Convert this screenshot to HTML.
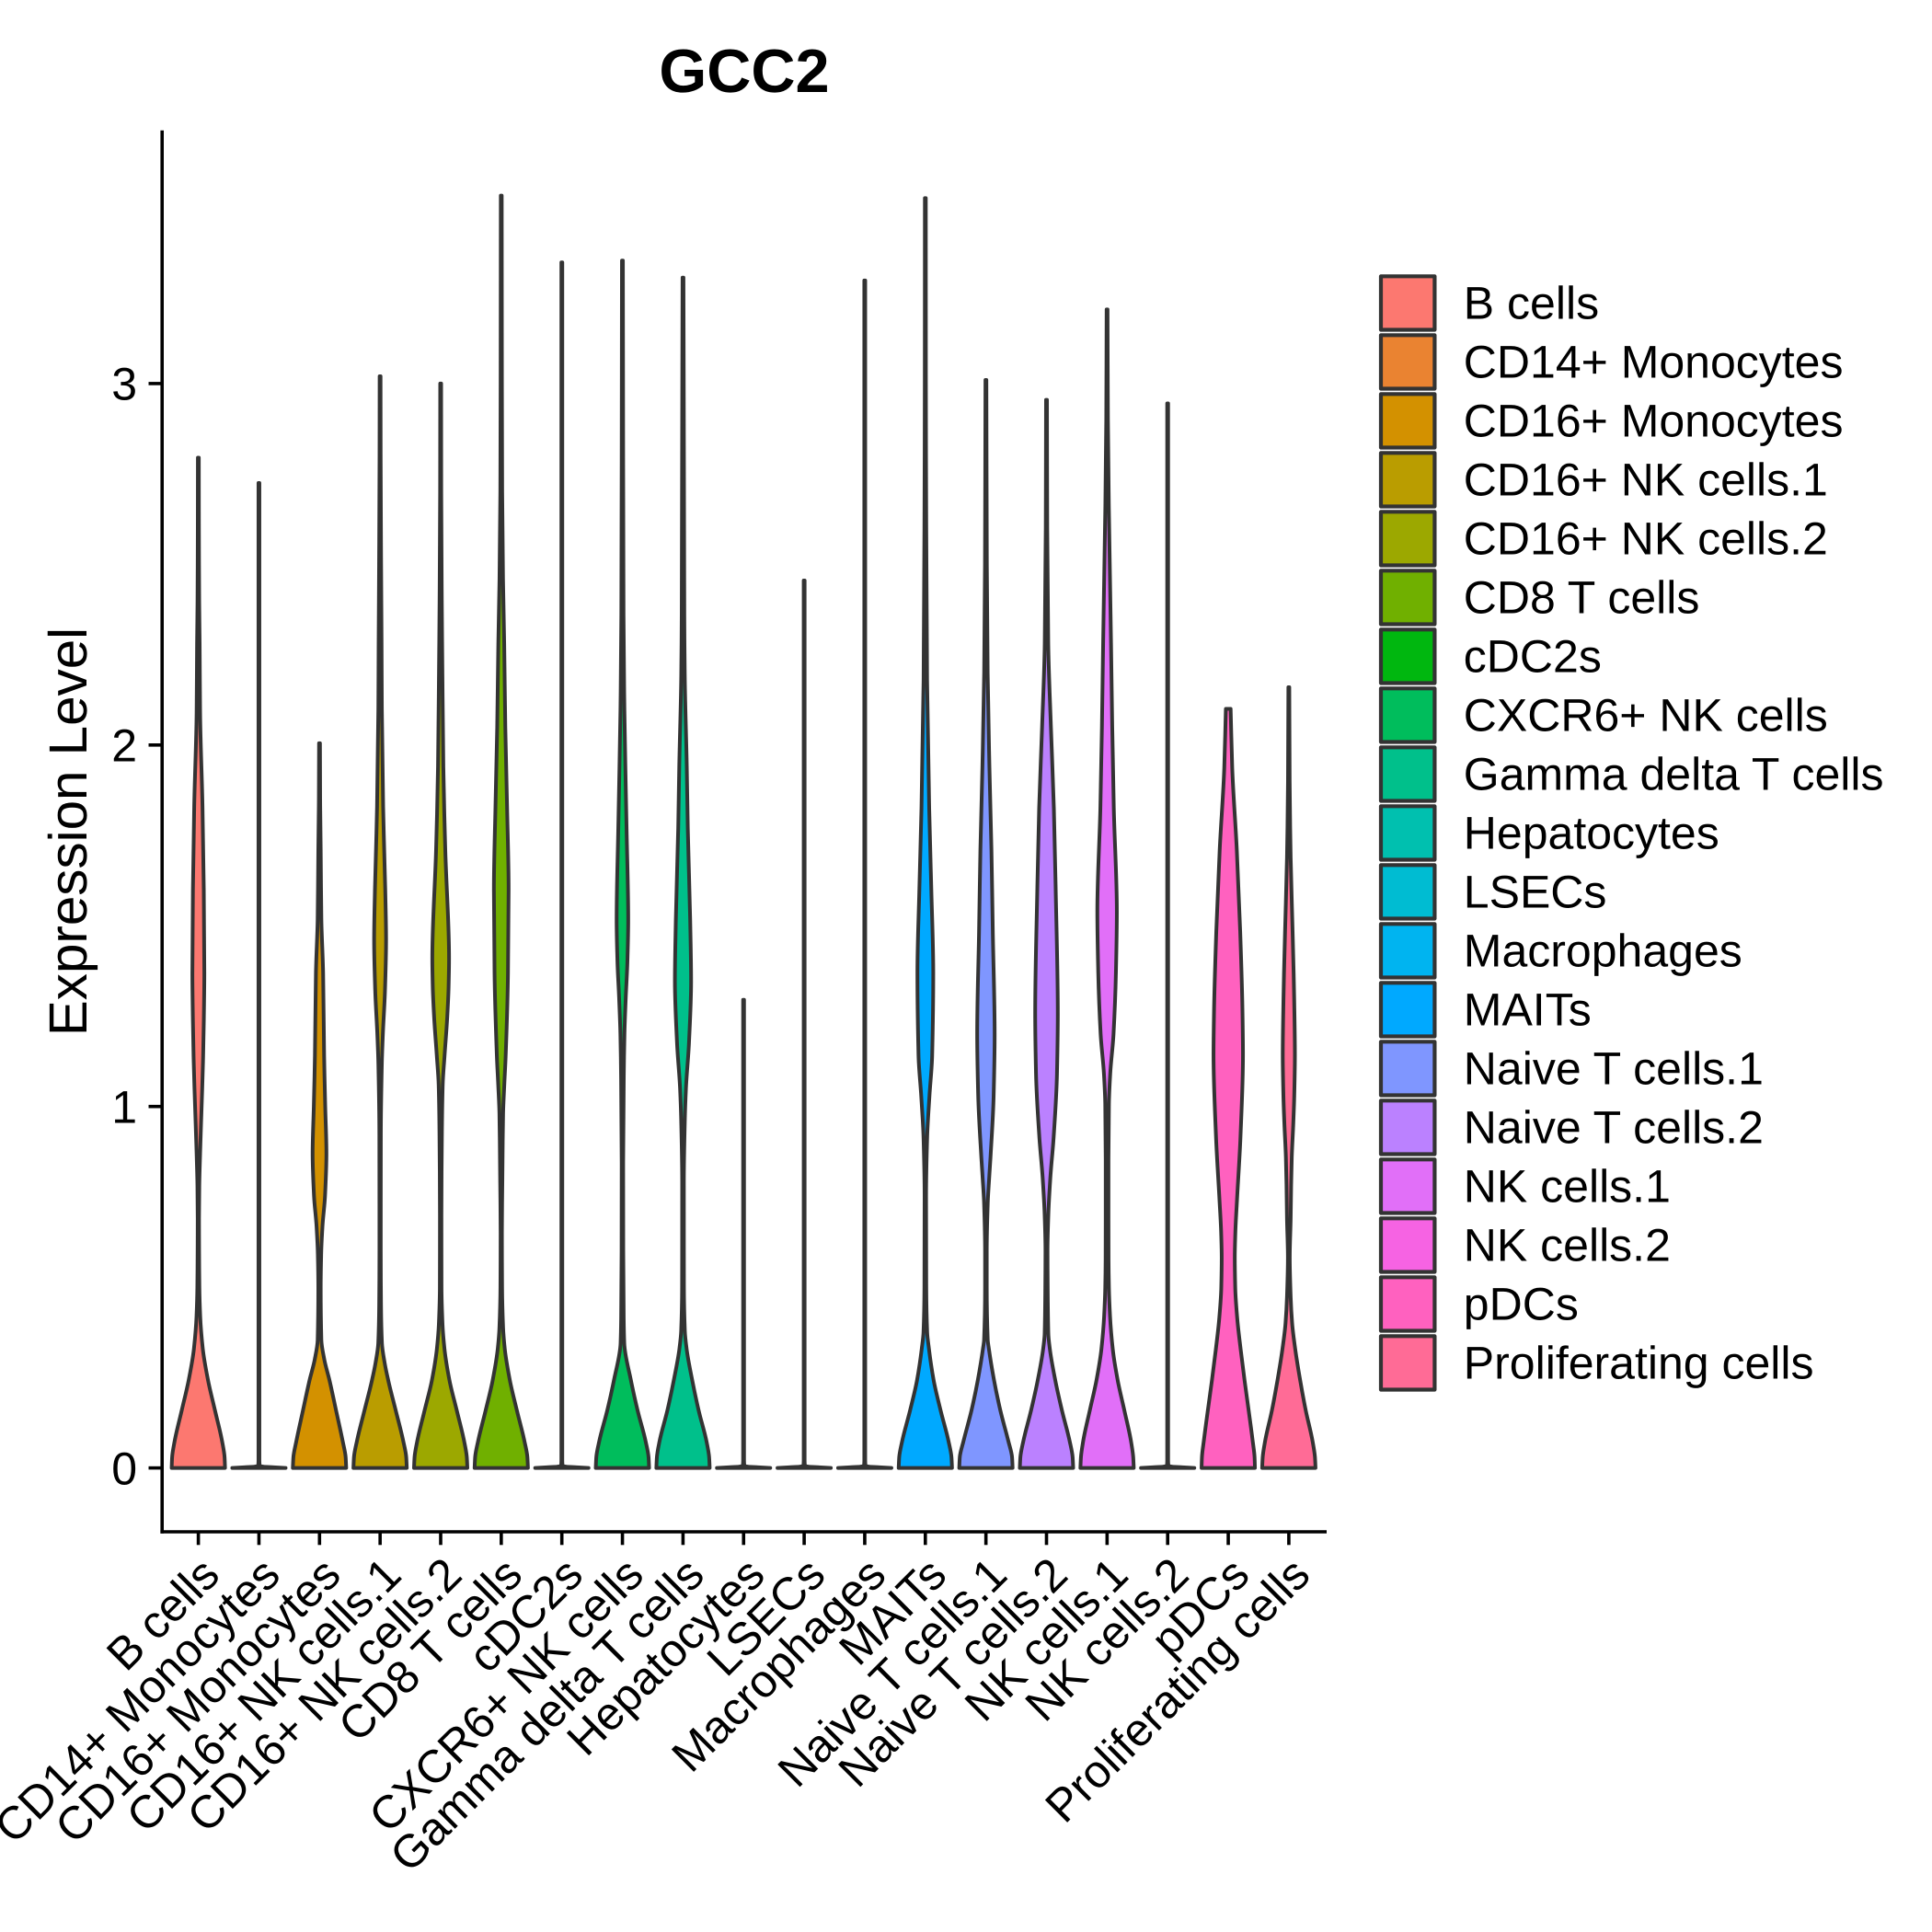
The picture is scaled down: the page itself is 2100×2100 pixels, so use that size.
<!DOCTYPE html>
<html lang="en">
<head>
<meta charset="utf-8">
<title>GCC2 violin plot</title>
<style>
  html, body { margin: 0; padding: 0; background: #ffffff; }
  svg { display: block; }
  text { font-family: "Liberation Sans", Arial, sans-serif; fill: #000000; text-rendering: geometricPrecision; }
</style>
</head>
<body>
<svg id="chart" xmlns="http://www.w3.org/2000/svg" width="2100" height="2100" viewBox="0 0 2100 2100">
  <rect x="0" y="0" width="2100" height="2100" fill="#ffffff"></rect>
  <text x="809" y="100" text-anchor="middle" font-size="66.67" font-weight="bold">GCC2</text>
  <text transform="translate(94 904) rotate(-90)" text-anchor="middle" font-size="58.33">Expression Level</text>
</svg>
<script>
// ---- chart data ----
const categories = ["B cells", "CD14+ Monocytes", "CD16+ Monocytes", "CD16+ NK cells.1", "CD16+ NK cells.2", "CD8 T cells", "cDC2s", "CXCR6+ NK cells", "Gamma delta T cells", "Hepatocytes", "LSECs", "Macrophages", "MAITs", "Naive T cells.1", "Naive T cells.2", "NK cells.1", "NK cells.2", "pDCs", "Proliferating cells"];
const fillColors = ["#FC7870", "#EA8331", "#D39100", "#BA9D00", "#9CA800", "#70B000", "#00B70F", "#00BD5C", "#00C08B", "#00C0AF", "#00BCD2", "#00B4F0", "#00A9FF", "#7F96FF", "#BB81FF", "#E16FF8", "#F663E3", "#FF61BF", "#FF6B96"];
const yTicks = [0, 1, 2, 3];

// Expression levels and relative density (peak = 29) for each violin
const bCellsLevels = [0, .03, .074, .16, .243, .33, .42, .5, .6, .69, .78, .86, .95, 1.05, 1.14, 1.25, 1.37, 1.6, 1.83, 2.09, 2.28, 2.4, 2.6, 2.795];
const bCellsDensity = [29, 28.5, 25.8, 18, 10.5, 4.8, 2.0, 1.1, .8, .7, 1.0, 1.8, 2.9, 4.2, 5.2, 6.0, 6.5, 5.9, 4.5, 1.9, 1.4, .9, .6, .5];
const cd14MonoLevels = [0, .002, .0035, .006, .02, 2.725];
const cd14MonoDensity = [29, 16, 5, .9, .5, .5];
const cd16MonoLevels = [0, .03, .074, .159, .243, .3, .354, .498, .59, .668, .753, .87, 1.0, 1.14, 1.37, 1.52, 1.71, 1.85, 2.005];
const cd16MonoDensity = [29, 28.4, 25.2, 18, 10.8, 5.2, 2.0, 1.3, 1.8, 3.2, 6, 7.5, 6.2, 5, 3.9, 2.0, 1.3, .7, .5];
const cd16Nk1Levels = [0, .03, .074, .159, .243, .29, .345, .45, .6, .92, 1.12, 1.2, 1.32, 1.46, 1.6, 1.83, 2.1, 2.28, 2.5, 2.8, 3.02];
const cd16Nk1Density = [29, 28.4, 25.2, 17, 8.8, 5, 2.0, 1, .7, .8, 1.9, 3.0, 5.3, 6.5, 5.6, 3.3, 1.9, 1.6, 1.1, .6, .5];
const cd16Nk2Levels = [0, .03, .074, .159, .243, .33, .397, .5, .7, .92, 1.06, 1.14, 1.25, 1.33, 1.41, 1.71, 1.94, 2.19, 2.4, 2.7, 3.0];
const cd16Nk2Density = [29, 28.4, 25.5, 17.5, 9.5, 4.1, 2.0, .9, .8, 1.3, 2.2, 4.2, 7.2, 8.6, 9.1, 5, 2.9, 1.9, 1.2, .6, .5];
const cd8TLevels = [0, .03, .074, .159, .243, .33, .388, .5, .65, .8, .98, 1.06, 1.14, 1.37, 1.6, 1.83, 2.05, 2.28, 2.46, 2.7, 3.0, 3.52];
const cd8TDensity = [29, 28.4, 25.2, 17, 9.3, 3.8, 2.0, .9, .7, 1.2, 2.0, 3.3, 4.8, 7.3, 8, 6.3, 4.4, 3.2, 1.9, 1, .7, .5];
const cdc2sLevels = [0, .002, .0035, .006, .02, 3.335];
const cdc2sDensity = [29, 16, 5, .9, .5, .5];
const cxcr6Levels = [0, .03, .074, .159, .243, .345, .413, .6, .84, 1.09, 1.2, 1.3, 1.4, 1.516, 1.77, 1.94, 2.145, 2.36, 2.79, 3.34];
const cxcr6Density = [29, 28.4, 25.2, 16.5, 9.2, 2.0, 1.4, .9, .8, 1.5, 2.2, 3.6, 5.4, 6.3, 4.5, 3.2, 1.9, 1.2, .8, .5];
const gammaDeltaLevels = [0, .03, .074, .159, .243, .33, .379, .5, .79, .964, 1.05, 1.176, 1.346, 1.516, 1.77, 1.94, 2.195, 2.36, 2.79, 3.293];
const gammaDeltaDensity = [29, 28.4, 25.5, 17, 10, 3.9, 2.0, 1, .9, 2.0, 3.2, 6.5, 8.8, 7.8, 5.2, 4.1, 1.9, 1.4, 1, .5];
const hepatocytesLevels = [0, .002, .0035, .006, .02, 1.295];
const hepatocytesDensity = [29, 16, 5, .9, .5, .5];
const lsecsLevels = [0, .002, .0035, .006, .02, 2.455];
const lsecsDensity = [29, 16, 5, .9, .5, .5];
const macrophagesLevels = [0, .002, .0035, .006, .02, 3.285];
const macrophagesDensity = [29, 16, 5, .9, .5, .5];
const maitsLevels = [0, .03, .074, .159, .243, .33, .375, .5, .75, .916, 1.03, 1.14, 1.37, 1.6, 1.825, 2.18, 2.28, 2.6, 3.0, 3.513];
const maitsDensity = [29, 28.4, 25.2, 16.6, 9, 3.9, 2.0, 1, .8, 2.0, 4.5, 7.4, 8.6, 6.5, 4.2, 1.9, 1.7, 1, .6, .5];
const naive1Levels = [0, .03, .074, .159, .243, .33, .354, .5, .6, .733, .8, .86, 1.03, 1.2, 1.48, 1.71, 1.94, 2.2, 2.5, 3.01];
const naive1Density = [29, 28.4, 24.4, 15.7, 8.8, 3.2, 2.0, .9, .9, 2.0, 3.5, 5, 8.4, 9.5, 7.5, 6, 3.8, 1.9, 1, .5];
const naive2Levels = [0, .03, .074, .159, .243, .33, .371, .5, .6, .7, .8, .916, 1.09, 1.257, 1.6, 1.825, 2.05, 2.28, 2.6, 2.955];
const naive2Density = [29, 28.4, 25.2, 16.8, 9.5, 3.6, 2.0, 1.3, 1.1, 2.0, 4.1, 7.8, 11.4, 12.3, 10, 8, 4.8, 1.9, .8, .5];
const nk1Levels = [0, .03, .074, .159, .243, .328, .42, .498, .575, .689, .85, 1.007, 1.09, 1.2, 1.37, 1.54, 1.825, 2.05, 2.28, 2.66, 2.9, 3.205];
const nk1Density = [29, 28.4, 26, 18.8, 11.5, 6.2, 3.2, 2.0, 1.6, 1.5, 1.5, 2.0, 3.4, 7, 9.6, 10.6, 7.3, 5.6, 4.3, 1.9, .9, .5];
const nk2Levels = [0, .002, .0035, .006, .02, 2.945];
const nk2Density = [29, 16, 5, .9, .5, .5];
const pdcsLevels = [0, .03, .074, .159, .243, .328, .413, .498, .582, .65, .745, .916, 1.143, 1.257, 1.484, 1.71, 1.938, 2.1];
const pdcsDensity = [29, 28.6, 26.6, 22.2, 17.7, 13.5, 9.8, 7.6, 7.1, 7.7, 9.6, 13.3, 16, 15.5, 13, 9.3, 4.3, 2.6];
const proliferatingLevels = [0, .03, .074, .159, .243, .328, .4, .473, .582, .689, .78, .86, .95, 1.03, 1.143, 1.3, 1.484, 1.688, 1.9, 2.16];
const proliferatingDensity = [29, 28.4, 25.8, 18.4, 12.3, 7, 3.6, 2.0, 1.0, 2.0, 2.5, 3.2, 4.8, 5.9, 6.6, 5.8, 4.1, 2.0, .9, .5];

const allLevels = [bCellsLevels, cd14MonoLevels, cd16MonoLevels, cd16Nk1Levels, cd16Nk2Levels, cd8TLevels, cdc2sLevels, cxcr6Levels, gammaDeltaLevels, hepatocytesLevels, lsecsLevels, macrophagesLevels, maitsLevels, naive1Levels, naive2Levels, nk1Levels, nk2Levels, pdcsLevels, proliferatingLevels];
const allDensities = [bCellsDensity, cd14MonoDensity, cd16MonoDensity, cd16Nk1Density, cd16Nk2Density, cd8TDensity, cdc2sDensity, cxcr6Density, gammaDeltaDensity, hepatocytesDensity, lsecsDensity, macrophagesDensity, maitsDensity, naive1Density, naive2Density, nk1Density, nk2Density, pdcsDensity, proliferatingDensity];

// ---- axis functions ----
const svg = document.getElementById('chart');
const NS = 'http://www.w3.org/2000/svg';
const STROKE = '#333333';
const LINE = 3.6;
const VIOLIN_LINE = 4.0;
const PEAK_DENSITY = 29;
const VIOLIN_HALF = 29;
function xScale(i) { return 215.6 + i * 65.85; }
function yScale(v) { return 1595.6 - v * 392.9; }
function halfWidth(d) { return d / PEAK_DENSITY * VIOLIN_HALF; }
function slug(s) { return s.toLowerCase().replace(/[^a-z0-9]+/g, '-').replace(/^-|-$/g, ''); }

function make(tag, attrs, parent) {
  const el = document.createElementNS(NS, tag);
  for (const k in attrs) el.setAttribute(k, attrs[k]);
  (parent || svg).appendChild(el);
  return el;
}

// monotone cubic tangents (dDensity/dLevel)
function tangents(xs, ys) {
  const n = xs.length, s = [], m = new Array(n);
  for (let i = 0; i < n - 1; i++) s.push((ys[i + 1] - ys[i]) / (xs[i + 1] - xs[i]));
  m[0] = s[0];
  m[n - 1] = s[n - 2];
  for (let i = 1; i < n - 1; i++) {
    if (s[i - 1] * s[i] <= 0) { m[i] = 0; continue; }
    const a = xs[i] - xs[i - 1], b = xs[i + 1] - xs[i];
    m[i] = 3 * (a + b) / ((2 * b + a) / s[i - 1] + (b + 2 * a) / s[i]);
  }
  return m;
}

function violinPath(i) {
  const lv = allLevels[i], ds = allDensities[i];
  const cx = xScale(i);
  const m = tangents(lv, ds);
  const n = lv.length;
  let d = 'M' + (cx - halfWidth(ds[0])).toFixed(2) + ' ' + yScale(lv[0]).toFixed(2);
  for (let k = 0; k < n - 1; k++) {
    const h = (lv[k + 1] - lv[k]) / 3;
    d += 'C' + (cx - halfWidth(ds[k] + m[k] * h)).toFixed(2) + ' ' + yScale(lv[k] + h).toFixed(2) +
         ' ' + (cx - halfWidth(ds[k + 1] - m[k + 1] * h)).toFixed(2) + ' ' + yScale(lv[k + 1] - h).toFixed(2) +
         ' ' + (cx - halfWidth(ds[k + 1])).toFixed(2) + ' ' + yScale(lv[k + 1]).toFixed(2);
  }
  d += 'L' + (cx + halfWidth(ds[n - 1])).toFixed(2) + ' ' + yScale(lv[n - 1]).toFixed(2);
  for (let k = n - 1; k > 0; k--) {
    const h = (lv[k] - lv[k - 1]) / 3;
    d += 'C' + (cx + halfWidth(ds[k] - m[k] * h)).toFixed(2) + ' ' + yScale(lv[k] - h).toFixed(2) +
         ' ' + (cx + halfWidth(ds[k - 1] + m[k - 1] * h)).toFixed(2) + ' ' + yScale(lv[k - 1] + h).toFixed(2) +
         ' ' + (cx + halfWidth(ds[k - 1])).toFixed(2) + ' ' + yScale(lv[k - 1]).toFixed(2);
  }
  return d + 'Z';
}

// ---- violins ----
categories.forEach(function (name, i) {
  const v = make('path', { d: violinPath(i), fill: fillColors[i], stroke: STROKE, 'stroke-width': VIOLIN_LINE, 'stroke-linejoin': 'round' });
  
  
});

// ---- axes ----
const yLine = make('line', { x1: 176.2, x2: 176.2, y1: 141.7, y2: 1666.8, stroke: '#000000', 'stroke-width': LINE });


const xLine = make('line', { x1: 174.4, x2: 1442, y1: 1665, y2: 1665, stroke: '#000000', 'stroke-width': LINE });



yTicks.forEach(function (t) {
  const y = yScale(t);
  const tick = make('line', { x1: 161.5, x2: 176, y1: y, y2: y, stroke: '#000000', 'stroke-width': LINE });
  
  
  const label = make('text', { x: 149, y: y + 17.8, 'text-anchor': 'end', 'font-size': 50 });
  label.textContent = String(t);
  
  
});

categories.forEach(function (name, i) {
  const x = xScale(i);
  const tick = make('line', { x1: x, x2: x, y1: 1665, y2: 1679.3, stroke: '#000000', 'stroke-width': LINE });
  
  
  const label = make('text', { transform: 'translate(' + (x + 25.5).toFixed(2) + ' 1714.5) rotate(-45)', 'text-anchor': 'end', 'font-size': 50 });
  label.textContent = name;
  
  
});

// ---- legend ----
const legend = make('g', {});


categories.forEach(function (name, i) {
  const top = 298.3 + i * 64;
  const key = make('rect', { x: 1501, y: top + 2, width: 58.4, height: 58.2, fill: fillColors[i], stroke: STROKE, 'stroke-width': 4.2, 'stroke-linejoin': 'round' }, legend);
  
  
  const label = make('text', { x: 1590.8, y: top + 48, 'font-size': 50 }, legend);
  label.textContent = name;
  
  
});
</script>
</body>
</html>
